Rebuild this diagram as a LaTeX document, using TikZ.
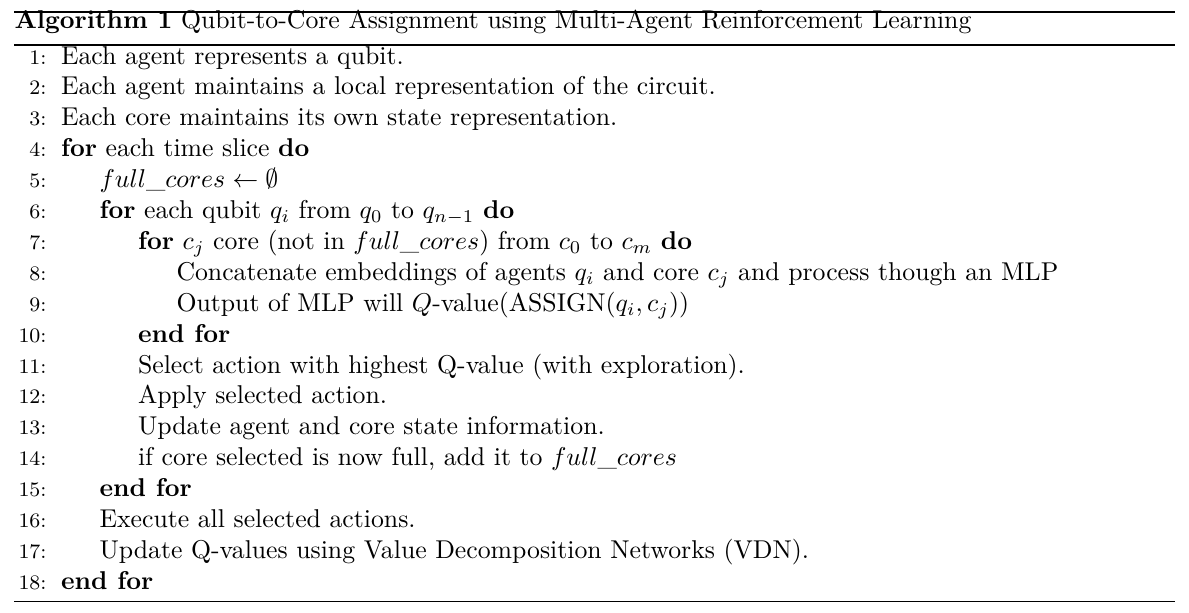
\documentclass[tikz,border=0pt]{standalone}
\begin{document}
\begin{tikzpicture}[x=0.3883pt, y=-0.3883pt,
    every node/.style={inner sep=0pt},
    lineno/.style={anchor=base east, font=\footnotesize},
    stmt/.style={anchor=base west}]
      \useasboundingbox (0, 0) rectangle (1189, 612);
      \draw [line width=0.8pt] (14, 12) -- (1175, 12);
      \node (title) at (14, 28) [stmt] {\textbf{Algorithm 1} Qubit-to-Core Assignment using Multi-Agent Reinforcement Learning};
      \draw [line width=0.4pt] (14, 45) -- (1175, 45);
      % line numbers
      \node (n1) at (47, 64) [lineno] {1:};
      \node (n2) at (47, 94.9) [lineno] {2:};
      \node (n3) at (47, 125.8) [lineno] {3:};
      \node (n4) at (47, 156.7) [lineno] {4:};
      \node (n5) at (47, 187.6) [lineno] {5:};
      \node (n6) at (47, 218.5) [lineno] {6:};
      \node (n7) at (47, 249.4) [lineno] {7:};
      \node (n8) at (47, 280.3) [lineno] {8:};
      \node (n9) at (47, 311.2) [lineno] {9:};
      \node (n10) at (47, 342.1) [lineno] {10:};
      \node (n11) at (47, 373) [lineno] {11:};
      \node (n12) at (47, 403.9) [lineno] {12:};
      \node (n13) at (47, 434.8) [lineno] {13:};
      \node (n14) at (47, 465.7) [lineno] {14:};
      \node (n15) at (47, 496.6) [lineno] {15:};
      \node (n16) at (47, 527.5) [lineno] {16:};
      \node (n17) at (47, 558.4) [lineno] {17:};
      \node (n18) at (47, 589.3) [lineno] {18:};
      % statements
      \node (s1) at (60.5, 64) [stmt] {Each agent represents a qubit.};
      \node (s2) at (60.5, 94.9) [stmt] {Each agent maintains a local representation of the circuit.};
      \node (s3) at (60.5, 125.8) [stmt] {Each core maintains its own state representation.};
      \node (s4) at (60.5, 156.7) [stmt] {\textbf{for} each time slice \textbf{do}};
      \node (s5) at (99, 187.6) [stmt] {$full\_cores \leftarrow \emptyset$};
      \node (s6) at (99, 218.5) [stmt] {\textbf{for} each qubit $q_i$ from $q_0$ to $q_{n-1}$ \textbf{do}};
      \node (s7) at (137.5, 249.4) [stmt] {\textbf{for} $c_j$ core (not in $full\_cores$) from $c_0$ to $c_m$ \textbf{do}};
      \node (s8) at (176, 280.3) [stmt] {Concatenate embeddings of agents $q_i$ and core $c_j$ and process though an MLP};
      \node (s9) at (176, 311.2) [stmt] {Output of MLP will $Q$-value(ASSIGN$(q_i, c_j)$)};
      \node (s10) at (137.5, 342.1) [stmt] {\textbf{end for}};
      \node (s11) at (137.5, 373) [stmt] {Select action with highest Q-value (with exploration).};
      \node (s12) at (137.5, 403.9) [stmt] {Apply selected action.};
      \node (s13) at (137.5, 434.8) [stmt] {Update agent and core state information.};
      \node (s14) at (137.5, 465.7) [stmt] {if core selected is now full, add it to $full\_cores$};
      \node (s15) at (99, 496.6) [stmt] {\textbf{end for}};
      \node (s16) at (99, 527.5) [stmt] {Execute all selected actions.};
      \node (s17) at (99, 558.4) [stmt] {Update Q-values using Value Decomposition Networks (VDN).};
      \node (s18) at (60.5, 589.3) [stmt] {\textbf{end for}};
      \draw [line width=0.4pt] (14, 601) -- (1175, 601);
    \end{tikzpicture}
\end{document}
